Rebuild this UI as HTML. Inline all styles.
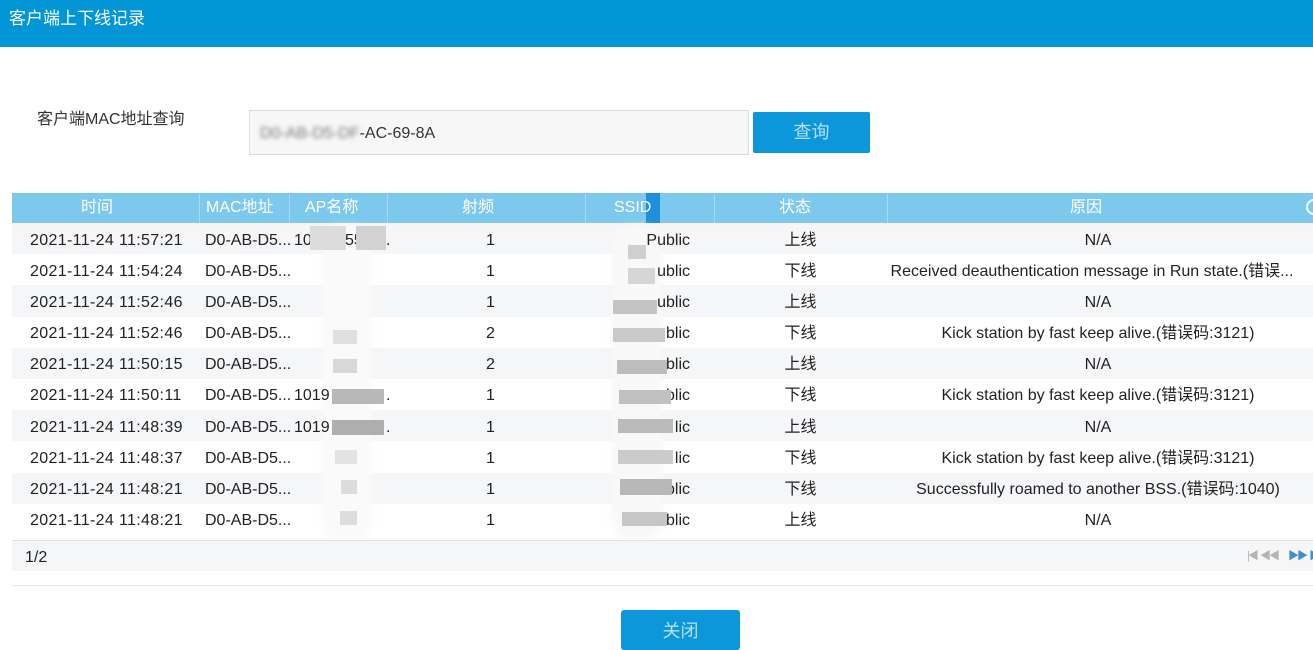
<!DOCTYPE html>
<html><head><meta charset="utf-8">
<style>
*{margin:0;padding:0;box-sizing:border-box}
body{width:1313px;height:648px;overflow:hidden;background:#fff;position:relative;font-family:"Liberation Sans","Noto Sans CJK SC",sans-serif;color:#222}
.a{position:absolute;white-space:nowrap}
.t{font-size:16px;line-height:20px;margin-top:2px}
.hd{color:#fff;font-size:16px;line-height:20px;top:198px}
.sep{position:absolute;top:194px;width:1px;height:29px;background:#a6d9f2}
.row{position:absolute;left:12px;width:1301px}
.bl{position:absolute;filter:blur(1px)}
</style></head><body>
<!-- title bar -->
<div class="a" style="left:0;top:0;width:1313px;height:47px;background:#0396d6"></div>
<div class="a" style="left:9px;top:9px;font-size:17px;line-height:20px;color:#fff">客户端上下线记录</div>

<!-- query -->
<div class="a t" style="left:37px;top:108px;color:#333">客户端MAC地址查询</div>
<div class="a" style="left:249px;top:110px;width:500px;height:45px;background:#f7f7f7;border:1px solid #dcdcdc"></div>
<div class="a t" style="left:260px;top:122px;color:#333"><span style="filter:blur(2px);color:#777">D0-AB-D5-DF</span>-AC-69-8A</div>
<div class="a" style="left:753px;top:112px;width:117px;height:41px;background:#0b97d9;border-radius:2px"></div>
<div class="a" style="left:753px;top:121px;width:117px;text-align:center;font-size:18px;line-height:22px;color:#b8dff3">查询</div>

<!-- table header -->
<div class="a" style="left:12px;top:193px;width:1301px;height:30px;background:#7cc9ed"></div>
<div class="a" style="left:12px;top:223px;width:1301px;height:2px;background:#fbf3e6"></div>
<div class="a" style="left:646px;top:193px;width:14px;height:30px;background:#1f8fdc"></div>
<div class="sep" style="left:199px"></div>
<div class="sep" style="left:289px"></div>
<div class="sep" style="left:387px"></div>
<div class="sep" style="left:585px"></div>
<div class="sep" style="left:714px"></div>
<div class="sep" style="left:887px"></div>
<div class="a hd" style="left:81px">时间</div>
<div class="a hd" style="left:206px">MAC地址</div>
<div class="a hd" style="left:305px">AP名称</div>
<div class="a hd" style="left:462px">射频</div>
<div class="a hd" style="left:614px">SSID</div>
<div class="a hd" style="left:779px">状态</div>
<div class="a hd" style="left:1070px">原因</div>
<div class="a" style="left:1306px;top:199px;width:16px;height:16px;border:2px solid #fff;border-radius:50%"></div>

<!-- row backgrounds -->
<div class="row" style="top:225px;height:29px;background:#f5f6f8"></div>
<div class="row" style="top:285px;height:32px;background:#f5f6f8"></div>
<div class="row" style="top:348px;height:31px;background:#f5f6f8"></div>
<div class="row" style="top:410px;height:31px;background:#f5f6f8"></div>
<div class="row" style="top:473px;height:31px;background:#f5f6f8"></div>

<!-- blur smears -->
<div class="bl" style="left:322px;top:226px;width:50px;height:315px;background:#fafafa;border-radius:20px;filter:blur(4px)"></div>
<div class="bl" style="left:612px;top:226px;width:50px;height:315px;background:#f8f8f8;border-radius:20px;filter:blur(4px)"></div>

<!-- rows text -->
<div class="a t" style="left:30px;top:229px;letter-spacing:.35px">2021-11-24 11:57:21</div>
<div class="a t" style="left:30px;top:260px;letter-spacing:.35px">2021-11-24 11:54:24</div>
<div class="a t" style="left:30px;top:291px;letter-spacing:.35px">2021-11-24 11:52:46</div>
<div class="a t" style="left:30px;top:322px;letter-spacing:.35px">2021-11-24 11:52:46</div>
<div class="a t" style="left:30px;top:353px;letter-spacing:.35px">2021-11-24 11:50:15</div>
<div class="a t" style="left:30px;top:384px;letter-spacing:.35px">2021-11-24 11:50:11</div>
<div class="a t" style="left:30px;top:416px;letter-spacing:.35px">2021-11-24 11:48:39</div>
<div class="a t" style="left:30px;top:447px;letter-spacing:.35px">2021-11-24 11:48:37</div>
<div class="a t" style="left:30px;top:478px;letter-spacing:.35px">2021-11-24 11:48:21</div>
<div class="a t" style="left:30px;top:509px;letter-spacing:.35px">2021-11-24 11:48:21</div>

<div class="a t" style="left:205px;top:229px">D0-AB-D5...</div>
<div class="a t" style="left:205px;top:260px">D0-AB-D5...</div>
<div class="a t" style="left:205px;top:291px">D0-AB-D5...</div>
<div class="a t" style="left:205px;top:322px">D0-AB-D5...</div>
<div class="a t" style="left:205px;top:353px">D0-AB-D5...</div>
<div class="a t" style="left:205px;top:384px">D0-AB-D5...</div>
<div class="a t" style="left:205px;top:416px">D0-AB-D5...</div>
<div class="a t" style="left:205px;top:447px">D0-AB-D5...</div>
<div class="a t" style="left:205px;top:478px">D0-AB-D5...</div>
<div class="a t" style="left:205px;top:509px">D0-AB-D5...</div>

<!-- AP column -->
<div class="a t" style="left:294px;top:229px">10</div>
<div class="a" style="left:310px;top:226px;width:36px;height:24px;background:#dcdcdc"></div>
<div class="a t" style="left:345px;top:229px">55</div>
<div class="a" style="left:356px;top:226px;width:30px;height:24px;background:#d2d2d2"></div>
<div class="a t" style="left:386px;top:229px">.</div>
<div class="a t" style="left:294px;top:384px">1019</div>
<div class="a" style="left:332px;top:389px;width:52px;height:15px;background:#b8b8b8"></div>
<div class="a t" style="left:386px;top:384px">.</div>
<div class="a t" style="left:294px;top:416px">1019</div>
<div class="a" style="left:332px;top:420px;width:52px;height:15px;background:#aeaeae"></div>
<div class="a t" style="left:386px;top:416px">.</div>
<div class="a" style="left:333px;top:330px;width:24px;height:14px;background:#e0e0e0"></div>
<div class="a" style="left:333px;top:359px;width:24px;height:14px;background:#d8d8d8"></div>
<div class="a" style="left:335px;top:450px;width:22px;height:14px;background:#e3e3e3"></div>
<div class="a" style="left:341px;top:480px;width:16px;height:14px;background:#dcdcdc"></div>
<div class="a" style="left:340px;top:511px;width:17px;height:14px;background:#dddddd"></div>

<!-- radio -->
<div class="a t" style="left:486px;top:229px">1</div>
<div class="a t" style="left:486px;top:260px">1</div>
<div class="a t" style="left:486px;top:291px">1</div>
<div class="a t" style="left:486px;top:322px">2</div>
<div class="a t" style="left:486px;top:353px">2</div>
<div class="a t" style="left:486px;top:384px">1</div>
<div class="a t" style="left:486px;top:416px">1</div>
<div class="a t" style="left:486px;top:447px">1</div>
<div class="a t" style="left:486px;top:478px">1</div>
<div class="a t" style="left:486px;top:509px">1</div>

<!-- SSID -->
<div class="a t" style="left:640px;top:229px;width:50px;text-align:right">Public</div>
<div class="a t" style="left:640px;top:260px;width:50px;text-align:right">ublic</div>
<div class="a t" style="left:640px;top:291px;width:50px;text-align:right">ublic</div>
<div class="a t" style="left:640px;top:322px;width:50px;text-align:right">blic</div>
<div class="a t" style="left:640px;top:353px;width:50px;text-align:right">blic</div>
<div class="a t" style="left:640px;top:384px;width:50px;text-align:right">blic</div>
<div class="a t" style="left:640px;top:416px;width:50px;text-align:right">lic</div>
<div class="a t" style="left:640px;top:447px;width:50px;text-align:right">lic</div>
<div class="a t" style="left:640px;top:478px;width:50px;text-align:right">blic</div>
<div class="a t" style="left:640px;top:509px;width:50px;text-align:right">blic</div>
<div class="a" style="left:628px;top:245px;width:18px;height:14px;background:#cfcfcf"></div>
<div class="a" style="left:628px;top:268px;width:27px;height:16px;background:#d6d6d6"></div>
<div class="a" style="left:613px;top:300px;width:44px;height:14px;background:#c4c4c4"></div>
<div class="a" style="left:613px;top:328px;width:52px;height:14px;background:#cacaca"></div>
<div class="a" style="left:617px;top:360px;width:50px;height:14px;background:#bdbdbd"></div>
<div class="a" style="left:619px;top:390px;width:52px;height:14px;background:#c0c0c0"></div>
<div class="a" style="left:618px;top:419px;width:55px;height:14px;background:#bababa"></div>
<div class="a" style="left:618px;top:450px;width:55px;height:14px;background:#cbcbcb"></div>
<div class="a" style="left:620px;top:479px;width:52px;height:16px;background:#b8b8b8"></div>
<div class="a" style="left:622px;top:512px;width:45px;height:14px;background:#c6c6c6"></div>

<!-- status -->
<div class="a t" style="left:714px;top:229px;width:173px;text-align:center">上线</div>
<div class="a t" style="left:714px;top:260px;width:173px;text-align:center">下线</div>
<div class="a t" style="left:714px;top:291px;width:173px;text-align:center">上线</div>
<div class="a t" style="left:714px;top:322px;width:173px;text-align:center">下线</div>
<div class="a t" style="left:714px;top:353px;width:173px;text-align:center">上线</div>
<div class="a t" style="left:714px;top:384px;width:173px;text-align:center">下线</div>
<div class="a t" style="left:714px;top:416px;width:173px;text-align:center">上线</div>
<div class="a t" style="left:714px;top:447px;width:173px;text-align:center">下线</div>
<div class="a t" style="left:714px;top:478px;width:173px;text-align:center">下线</div>
<div class="a t" style="left:714px;top:509px;width:173px;text-align:center">上线</div>

<!-- reason -->
<div class="a t" style="left:887px;top:229px;width:422px;text-align:center">N/A</div>
<div class="a t" style="left:887px;top:260px;width:410px;text-align:center">Received deauthentication message in Run state.(错误...</div>
<div class="a t" style="left:887px;top:291px;width:422px;text-align:center">N/A</div>
<div class="a t" style="left:887px;top:322px;width:422px;text-align:center">Kick station by fast keep alive.(错误码:3121)</div>
<div class="a t" style="left:887px;top:353px;width:422px;text-align:center">N/A</div>
<div class="a t" style="left:887px;top:384px;width:422px;text-align:center">Kick station by fast keep alive.(错误码:3121)</div>
<div class="a t" style="left:887px;top:416px;width:422px;text-align:center">N/A</div>
<div class="a t" style="left:887px;top:447px;width:422px;text-align:center">Kick station by fast keep alive.(错误码:3121)</div>
<div class="a t" style="left:887px;top:478px;width:422px;text-align:center">Successfully roamed to another BSS.(错误码:1040)</div>
<div class="a t" style="left:887px;top:509px;width:422px;text-align:center">N/A</div>

<!-- pager -->
<div class="a" style="left:12px;top:540px;width:1301px;height:1px;background:#e2e2e2"></div>
<div class="a" style="left:12px;top:541px;width:1301px;height:30px;background:#f5f6f8"></div>
<div class="a t" style="left:25px;top:546px">1/2</div>
<div class="a" style="left:1247px;top:550px;font-size:11px;line-height:12px;color:#b4b4b4;letter-spacing:-2px">|◀&nbsp;&nbsp;&nbsp;◀◀</div>
<div class="a" style="left:1288px;top:550px;font-size:11px;line-height:12px;color:#3d8fcf;letter-spacing:-2px">▶▶&nbsp;&nbsp;&nbsp;▶|</div>
<div class="a" style="left:12px;top:585px;width:1301px;height:1px;background:#e6e6e6"></div>

<!-- close -->
<div class="a" style="left:621px;top:610px;width:119px;height:40px;background:#0b97d9;border-radius:3px"></div>
<div class="a" style="left:621px;top:620px;width:119px;text-align:center;font-size:18px;line-height:22px;color:#b8dff3">关闭</div>
</body></html>
